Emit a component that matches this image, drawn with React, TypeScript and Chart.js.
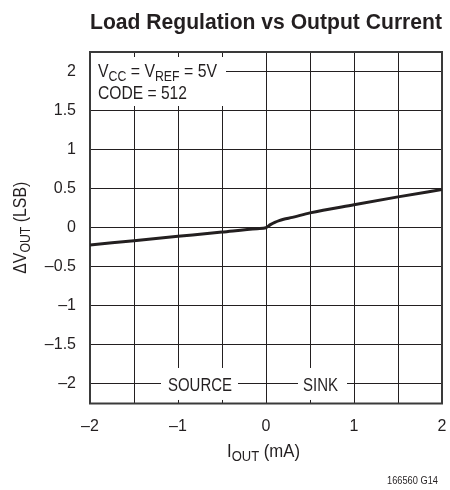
import React, { useEffect, useRef } from 'react';
import { Chart, registerables } from 'chart.js';

Chart.register(...registerables);

// ---- data ----
const currentMA = [-2, -1.5, -1, -0.5, -0.1, 0, 0.05, 0.1, 0.15, 0.2, 0.3, 0.5, 1, 1.5, 2];
const deltaVLsb = [-0.22, -0.165, -0.11, -0.055, -0.012, 0, 0.04, 0.07, 0.092, 0.108, 0.133, 0.19, 0.295, 0.395, 0.49];
const xGridValues = [-2, -1.5, -1, -0.5, 0, 0.5, 1, 1.5, 2];
const xLabelValues = [-2, -1, 0, 1, 2];
const yTickValues = [-2, -1.5, -1, -0.5, 0, 0.5, 1, 1.5, 2];

const titleText = 'Load Regulation vs Output Current';
const footText = '166560 G14';

const INK = '#231f20';
const FONT = "'Liberation Sans Narrow', 'Liberation Sans', Arial, sans-serif";
const BASE = "'Liberation Sans', Arial, sans-serif";

const fmt = (v: number) => (v < 0 ? '\u2013' + String(Math.abs(v)) : String(v));

type Part = { t: string; sub?: boolean };

function drawRich(
  ctx: CanvasRenderingContext2D,
  parts: Part[],
  x: number,
  y: number,
  size: number,
  targetWidth: number,
  align: 'left' | 'center' | 'right' = 'left',
  bold = false
) {
  const w = bold ? 'bold ' : '';
  const subSize = Math.round(size * 0.75);
  let natural = 0;
  for (const p of parts) {
    ctx.font = `${w}${p.sub ? subSize : size}px ${BASE}`;
    natural += ctx.measureText(p.t).width;
  }
  const sx = targetWidth / natural;
  ctx.save();
  ctx.translate(x, y);
  ctx.scale(sx, 1);
  let cx = 0;
  if (align === 'center') cx = -natural / 2;
  if (align === 'right') cx = -natural;
  ctx.textBaseline = 'alphabetic';
  ctx.textAlign = 'left';
  ctx.fillStyle = INK;
  for (const p of parts) {
    ctx.font = `${w}${p.sub ? subSize : size}px ${BASE}`;
    ctx.fillText(p.t, cx, p.sub ? size * 0.22 : 0);
    cx += ctx.measureText(p.t).width;
  }
  ctx.restore();
}

const annotationPlugin = {
  id: 'annot',
  beforeDatasetsDraw(chart: any) {
    const ctx: CanvasRenderingContext2D = chart.ctx;
    const a = chart.chartArea;
    const ys = chart.scales.y;
    const yMinus2 = ys.getPixelForValue(-2);
    ctx.save();
    ctx.fillStyle = '#ffffff';
    // text boxes masking grid
    ctx.fillRect(a.left + 1, a.top + 5, 226 - a.left - 1, 106 - a.top - 5);
    ctx.fillRect(161, yMinus2 - 16, 77, 32);
    ctx.fillRect(298, yMinus2 - 16, 49, 32);
    ctx.restore();

    drawRich(ctx, [{ t: 'V' }, { t: 'CC', sub: true }, { t: ' = V' }, { t: 'REF', sub: true }, { t: ' = 5V' }], 98, 77, 18, 119);
    drawRich(ctx, [{ t: 'CODE = 512' }], 98, 99, 18, 89);
    drawRich(ctx, [{ t: 'SOURCE' }], 168, yMinus2 + 7, 18, 64);
    drawRich(ctx, [{ t: 'SINK' }], 303, yMinus2 + 7, 18, 35);

    // frame
    ctx.save();
    ctx.strokeStyle = '#3a3a3a';
    ctx.lineWidth = 2;
    ctx.strokeRect(a.left, a.top, a.right - a.left, a.bottom - a.top);
    ctx.restore();
  },
  afterDraw(chart: any) {
    const ctx: CanvasRenderingContext2D = chart.ctx;
    const a = chart.chartArea;
    drawRich(ctx, [{ t: titleText }], 90, 29, 22, 352, 'left', true);
    drawRich(ctx, [{ t: 'I' }, { t: 'OUT', sub: true }, { t: ' (mA)' }], 227, 457, 18, 73);
    drawRich(ctx, [{ t: footText }], 387, 484, 11, 51);
    ctx.save();
    ctx.translate(26, (a.top + a.bottom) / 2);
    ctx.rotate(-Math.PI / 2);
    drawRich(ctx, [{ t: '\u0394V' }, { t: 'OUT', sub: true }, { t: ' (LSB)' }], 0, 0, 18, 92, 'center');
    ctx.restore();
  },
};

export default function App() {
  const ref = useRef<HTMLCanvasElement>(null);
  useEffect(() => {
    if (!ref.current) return;
    const chart = new Chart(ref.current, {
      type: 'line',
      data: {
        datasets: [
          {
            label: 'Load regulation',
            data: currentMA.map((x, i) => ({ x, y: deltaVLsb[i] })),
            borderColor: INK,
            borderWidth: 3,
            pointRadius: 0,
            cubicInterpolationMode: 'monotone',
            fill: false,
          },
        ],
      },
      options: {
        responsive: false,
        maintainAspectRatio: false,
        animation: false,
        layout: { padding: { top: 52, right: 8, left: 0, bottom: 0 } },
        plugins: {
          legend: { display: false },
          title: { display: false },
          tooltip: { enabled: false },
        },
        scales: {
          x: {
            type: 'linear',
            min: -2,
            max: 2,
            afterBuildTicks: (s: any) => {
              s.ticks = xGridValues.map((v) => ({ value: v }));
            },
            afterFit: (s: any) => {
              s.height = 86.5;
              s.paddingLeft = 0;
              s.paddingRight = 0;
            },
            ticks: {
              autoSkip: false,
              maxRotation: 0,
              padding: 13,
              color: INK,
              font: { family: FONT, size: 16 },
              callback: (v: any) => (xLabelValues.includes(Number(v)) ? fmt(Number(v)) : ''),
            },
            grid: { color: INK, lineWidth: 1, drawTicks: false },
            border: { display: false },
          },
          y: {
            type: 'linear',
            min: -2.25,
            max: 2.25,
            afterBuildTicks: (s: any) => {
              s.ticks = yTickValues.map((v) => ({ value: v }));
            },
            afterFit: (s: any) => {
              s.width = 90;
              s.paddingTop = 0;
              s.paddingBottom = 0;
            },
            ticks: {
              autoSkip: false,
              padding: 14,
              color: INK,
              font: { family: FONT, size: 16 },
              callback: (v: any) => fmt(Number(v)),
            },
            grid: { color: INK, lineWidth: 1, drawTicks: false },
            border: { display: false },
          },
        },
      },
      plugins: [annotationPlugin],
    } as any);
    return () => chart.destroy();
  }, []);
  return (
    <div style={{ position: 'fixed', left: 0, top: 0, width: 450, height: 490, background: '#fff' }}>
      <canvas ref={ref} width={450} height={490} />
    </div>
  );
}
